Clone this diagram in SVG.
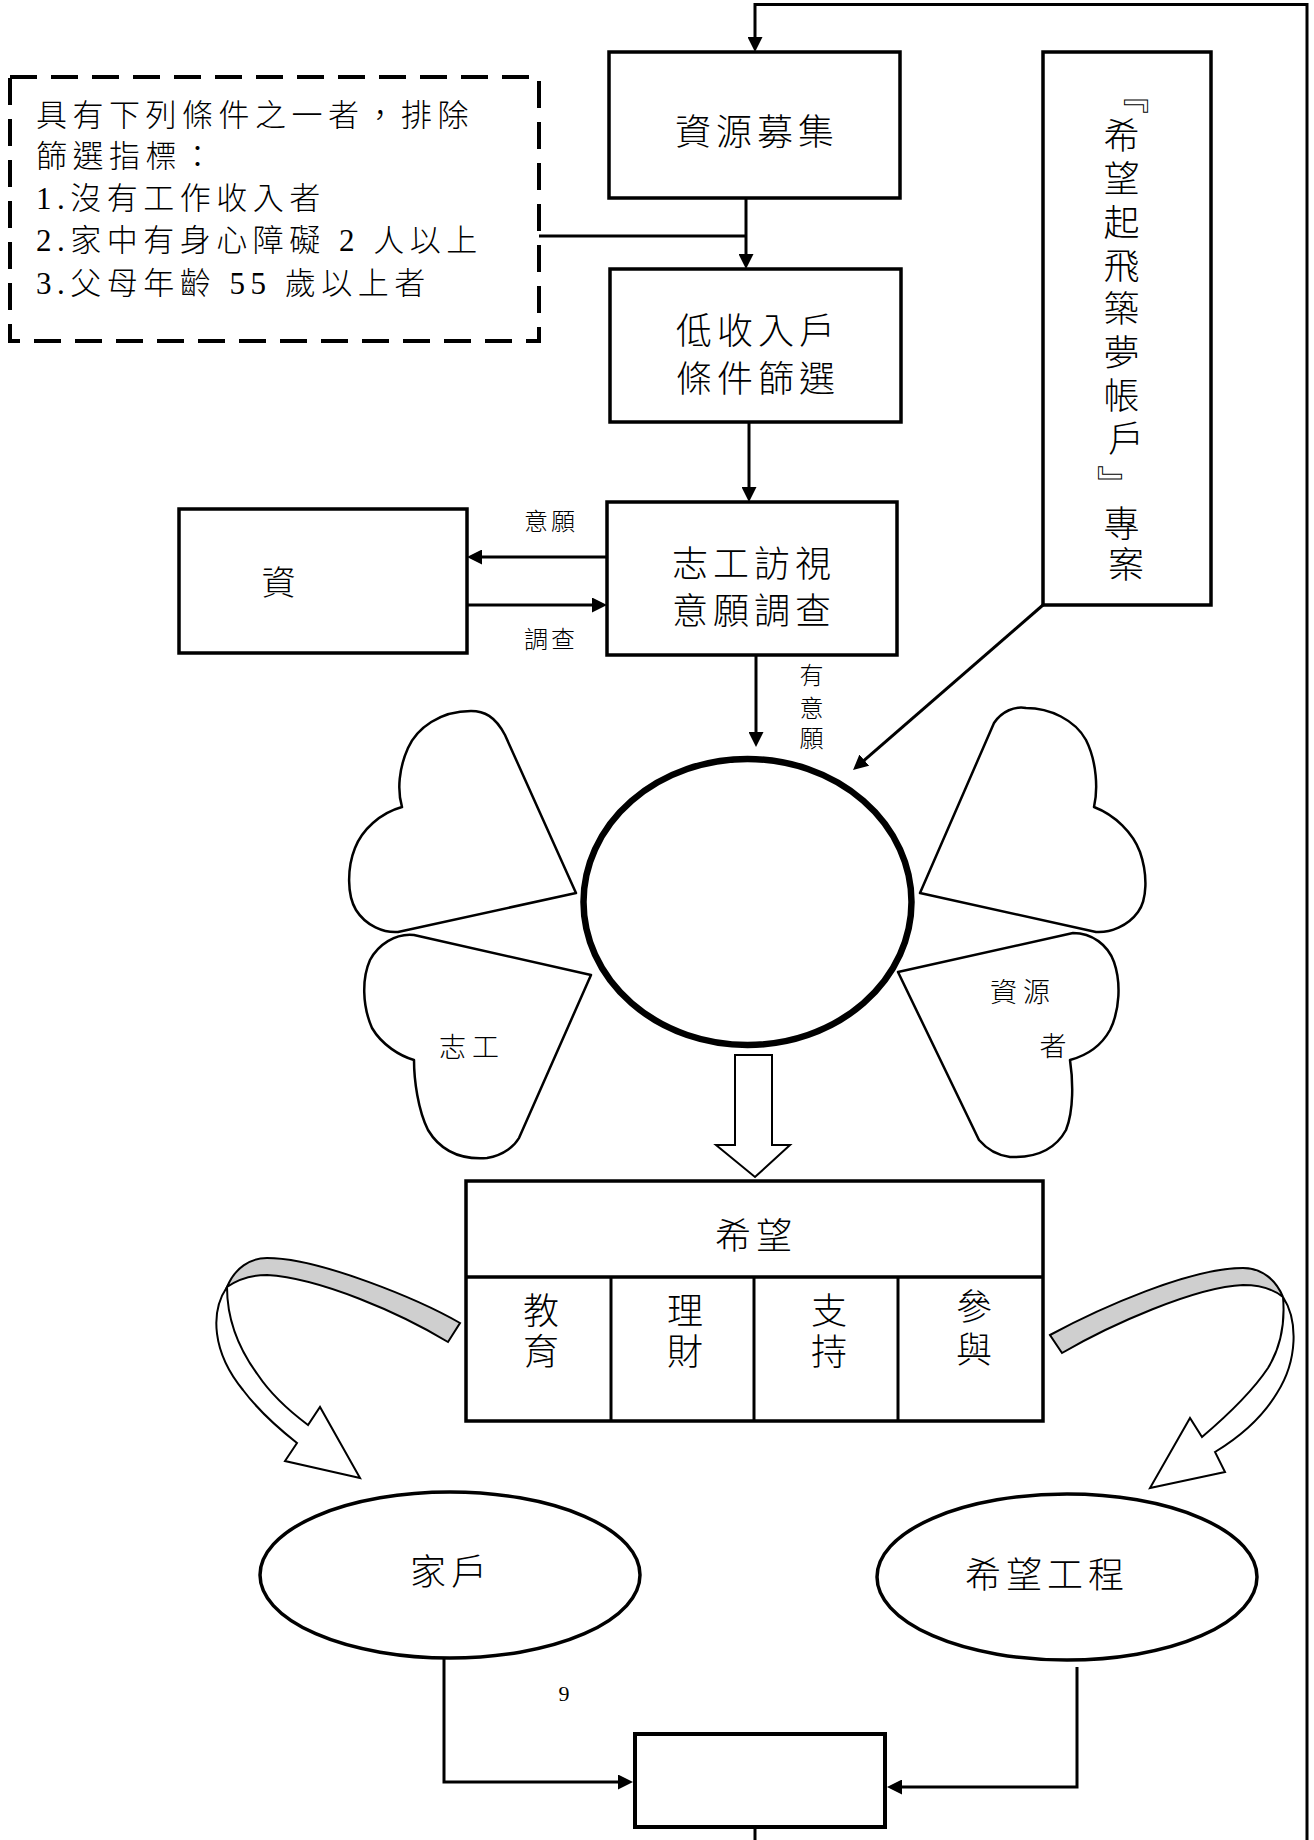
<svg xmlns="http://www.w3.org/2000/svg" width="1314" height="1840" viewBox="0 0 1314 1840">
  <style>
    .box { fill: #fff; stroke: #000; stroke-width: 3.5; }
    .dash { fill: #fff; stroke: #000; stroke-width: 4; stroke-dasharray: 27 14; }
    .petal { fill: #fff; stroke: #000; stroke-width: 2.5; stroke-linejoin: round; }
    .ring { fill: #fff; stroke: #000; stroke-width: 6.5; }
    .oval { fill: #fff; stroke: #000; stroke-width: 3.5; }
    .wire { fill: none; stroke: #000; stroke-width: 3; }
    .hollow { fill: #fff; stroke: #000; stroke-width: 2; stroke-linejoin: miter; }
    .band { fill: #cfcfcf; stroke: #000; stroke-width: 2; }
    text { font-family: "Liberation Serif", "Noto Sans CJK TC", serif; font-weight: 300; fill: #000; dominant-baseline: central; }
    .big { font-size: 36px; letter-spacing: 5px; text-anchor: middle; }
    .col { font-size: 36px; text-anchor: middle; }
    .note { font-size: 31px; letter-spacing: 5.5px; }
    .small { font-size: 24px; letter-spacing: 3px; text-anchor: middle; }
    .mid { font-size: 27px; letter-spacing: 6px; text-anchor: middle; }
  </style>
  <defs>
    <marker id="ah" viewBox="0 0 15 15" refX="10" refY="7.5" markerWidth="15" markerHeight="15" markerUnits="userSpaceOnUse" orient="auto">
      <path d="M0,0 L15,7.5 L0,15 Z" fill="#000"/>
    </marker>
  </defs>

  <rect width="1314" height="1840" fill="#fff"/>

  <!-- connectors -->
  <g id="connectors">
    <path class="wire" d="M1307,1840 L1307,4.5 L755,4.5 L755,47" marker-end="url(#ah)"/>
    <path class="wire" d="M539,236 L746,236"/>
    <path class="wire" d="M746,198 L746,264" marker-end="url(#ah)"/>
    <path class="wire" d="M749,423 L749,497" marker-end="url(#ah)"/>
    <path class="wire" d="M612,557 L472,557" marker-end="url(#ah)"/>
    <path class="wire" d="M467,605 L602,605" marker-end="url(#ah)"/>
    <path class="wire" d="M756,655 L756,742" marker-end="url(#ah)"/>
    <path class="wire" d="M1043,605 L856.8,766.7" marker-end="url(#ah)"/>
    <path class="wire" d="M444,1659 L444,1782 L628,1782" marker-end="url(#ah)"/>
    <path class="wire" d="M1077,1667 L1077,1787 L892,1787" marker-end="url(#ah)"/>
    <path class="wire" d="M755,1828 L755,1840"/>
    <!-- hollow block arrow from the core to the hope table -->
    <path class="hollow" d="M735,1055 L772,1055 L772,1145 L790,1145 L755,1177 L716,1145 L735,1145 Z"/>
    <!-- curved ribbon arrows -->
    <g id="curve-left">
      <path class="hollow" d="M227,1287 C210,1312 212,1352 243,1390 C258,1410 278,1428 297,1443 L285,1461 L360,1478 L320,1407 L308,1425 C288,1410 270,1393 258,1375 C238,1348 227,1320 227,1287 Z"/>
      <path class="band" d="M460,1323 C420,1300 320,1258 267,1258 C250,1258 235,1268 227,1287 C240,1278 255,1275 267,1275 C320,1278 400,1313 448,1342 Z"/>
    </g>
    <g id="curve-right">
      <path class="hollow" d="M1283,1297 C1298,1320 1298,1360 1277,1393 C1262,1418 1238,1438 1215,1452 L1225,1472 L1150,1488 L1190,1418 L1202,1437 C1222,1420 1250,1395 1268,1368 C1282,1345 1285,1320 1283,1297 Z"/>
      <path class="band" d="M1050,1335 C1100,1308 1190,1268 1243,1268 C1262,1268 1276,1280 1283,1297 C1272,1288 1258,1285 1243,1285 C1195,1287 1110,1325 1062,1353 Z"/>
    </g>
  </g>

  <!-- exclusion criteria note -->
  <g id="n-exclusion">
    <rect class="dash" x="10" y="77" width="529" height="264"/>
    <text class="note" x="36" y="115">具有下列條件之一者，排除</text>
    <text class="note" x="36" y="156">篩選指標：</text>
    <text class="note" x="36" y="198">1.沒有工作收入者</text>
    <text class="note" x="36" y="240">2.家中有身心障礙 2 人以上</text>
    <text class="note" x="36" y="283">3.父母年齡 55 歲以上者</text>
  </g>

  <g id="n-recruit">
    <rect class="box" x="609" y="52" width="291" height="146"/>
    <text class="big" x="757" y="133">資源募集</text>
  </g>

  <g id="n-filter">
    <rect class="box" x="610" y="269" width="291" height="153"/>
    <text class="big" x="758" y="332">低收入戶</text>
    <text class="big" x="758" y="380">條件篩選</text>
  </g>

  <g id="n-visit">
    <rect class="box" x="607" y="502" width="290" height="153"/>
    <text class="big" x="754" y="565">志工訪視</text>
    <text class="big" x="754" y="612">意願調查</text>
  </g>
  <text class="small" x="551" y="522">意願</text>
  <text class="small" x="551" y="640">調查</text>
  <text class="small" x="813" y="676">有</text>
  <text class="small" x="813" y="709">意</text>
  <text class="small" x="813" y="739">願</text>

  <g id="n-resource">
    <rect class="box" x="179" y="509" width="288" height="144"/>
    <text class="big" x="281" y="583" style="font-size:34px">資</text>
  </g>

  <!-- project title, set one glyph per row; the corner brackets are turned for vertical setting -->
  <g id="n-project">
    <rect class="box" x="1043" y="52" width="168" height="553"/>
    <text class="col" x="1129" y="96" transform="rotate(90 1129 96)">『</text>
    <text class="col">
      <tspan x="1126" y="137">希</tspan>
      <tspan x="1126" y="180">望</tspan>
      <tspan x="1126" y="224">起</tspan>
      <tspan x="1126" y="267">飛</tspan>
      <tspan x="1126" y="310">築</tspan>
      <tspan x="1126" y="354">夢</tspan>
      <tspan x="1126" y="397">帳</tspan>
      <tspan x="1126" y="440">戶</tspan>
    </text>
    <text class="col" x="1113" y="483" transform="rotate(90 1113 483)">』</text>
    <text class="col">
      <tspan x="1126" y="525">專</tspan>
      <tspan x="1126" y="566">案</tspan>
    </text>
  </g>

  <!-- core circle with its four petals -->
  <g id="n-petal-tl">
    <path class="petal" d="M576,893 L505,735 C495,716 484,711 471,711 C440,711 417,728 408,748 C399,768 397,790 402,807 C380,813 362,830 355,848 C347,868 347,895 356,910 C366,926 384,933 398,932 Z"/>
  </g>
  <g id="n-petal-bl">
    <path class="petal" d="M591,975 L414,935 C395,933 378,945 370,960 C362,978 362,1005 372,1028 C382,1045 400,1056 414,1060 C414,1080 418,1110 428,1130 C440,1150 460,1160 487,1158 C505,1155 515,1145 519,1138 Z"/>
    <text class="mid" x="472" y="1048">志工</text>
  </g>
  <g id="n-petal-tr">
    <path class="petal" d="M920,893 L994,723 C1002,711 1015,706 1026,708 C1050,708 1075,720 1086,740 C1097,762 1098,790 1094,807 C1115,815 1133,833 1140,852 C1148,875 1147,900 1138,912 C1128,926 1110,933 1096,932 Z"/>
  </g>
  <g id="n-petal-br">
    <path class="petal" d="M898,972 L1073,933 C1092,933 1108,945 1114,962 C1121,982 1120,1010 1110,1030 C1100,1048 1085,1056 1070,1060 C1073,1080 1074,1110 1066,1130 C1055,1150 1035,1158 1010,1157 C995,1155 985,1147 979,1140 Z"/>
    <text class="mid" x="1023" y="993">資源</text>
    <text class="mid" x="1056" y="1047">者</text>
  </g>
  <g id="n-core">
    <ellipse class="ring" cx="747.5" cy="902" rx="164" ry="143"/>
  </g>

  <g id="n-hope">
    <rect class="box" x="466" y="1181" width="577" height="240"/>
    <line class="wire" x1="466" y1="1277" x2="1043" y2="1277" style="stroke-width:3.5"/>
    <line class="wire" x1="611" y1="1277" x2="611" y2="1421"/>
    <line class="wire" x1="754" y1="1277" x2="754" y2="1421"/>
    <line class="wire" x1="898" y1="1277" x2="898" y2="1421"/>
    <text class="big" x="756" y="1237">希望</text>
    <text class="col" x="541" y="1312">教</text>
    <text class="col" x="541" y="1353">育</text>
    <text class="col" x="685" y="1312">理</text>
    <text class="col" x="685" y="1353">財</text>
    <text class="col" x="829" y="1312">支</text>
    <text class="col" x="829" y="1353">持</text>
    <text class="col" x="974" y="1308">參</text>
    <text class="col" x="974" y="1351">與</text>
  </g>

  <g id="n-family">
    <ellipse class="oval" cx="450" cy="1575" rx="190" ry="83"/>
    <text class="big" x="451" y="1573">家戶</text>
  </g>

  <g id="n-hope-project">
    <ellipse class="oval" cx="1067" cy="1577" rx="190" ry="83"/>
    <text class="big" x="1047" y="1576">希望工程</text>
  </g>

  <text x="564" y="1693" style="font-size:22px; text-anchor:middle">9</text>

  <g id="n-result">
    <rect class="box" x="635" y="1734" width="250" height="93" style="stroke-width:4"/>
  </g>
</svg>
